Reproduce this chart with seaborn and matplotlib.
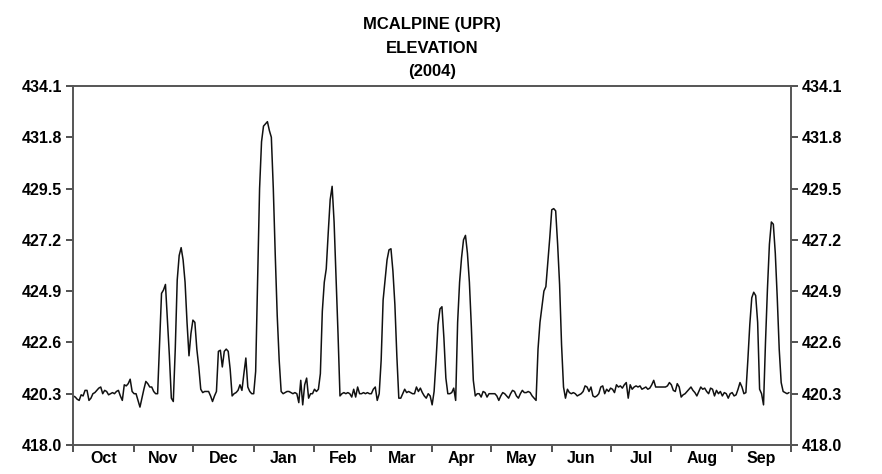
import numpy as np
import pandas as pd
import matplotlib
matplotlib.use("Agg")
import matplotlib.pyplot as plt
import seaborn as sns

# daily elevation readings, water year Oct 2003 - Sep 2004
oct_vals = [420.2, 420.15, 420.05, 420.0, 420.25, 420.2, 420.45, 420.45, 420.0, 420.1,
            420.3, 420.35, 420.45, 420.55, 420.6, 420.3, 420.45, 420.4, 420.25, 420.3,
            420.35, 420.3, 420.4, 420.45, 420.2, 420.0, 420.7, 420.65, 420.75, 420.95, 420.4]
nov_vals = [420.3, 420.3, 420.0, 419.7, 420.1, 420.5, 420.85, 420.75, 420.6, 420.6,
            420.4, 420.3, 420.3, 422.6, 424.8, 424.95, 425.2, 423.6, 422.0, 420.1,
            419.95, 422.3, 425.4, 426.5, 426.85, 426.3, 425.3, 423.5, 422.0, 423.0]
dec_vals = [423.6, 423.5, 422.3, 421.5, 420.5, 420.35, 420.4, 420.4, 420.4, 420.2,
            419.95, 420.2, 420.4, 422.2, 422.25, 421.5, 422.2, 422.3, 422.2, 421.4,
            420.2, 420.3, 420.35, 420.45, 420.7, 420.45, 421.2, 421.9, 420.6, 420.4, 420.3]
jan_vals = [420.3, 421.3, 425.5, 429.5, 431.6, 432.3, 432.4, 432.5, 432.1, 431.8,
            429.5, 426.5, 423.8, 421.8, 420.4, 420.3, 420.35, 420.4, 420.4, 420.35,
            420.3, 420.35, 420.3, 419.9, 420.9, 419.8, 420.7, 421.0, 420.1, 420.3, 420.3]
feb_vals = [420.5, 420.4, 420.5, 421.2, 424.0, 425.3, 425.9, 427.5, 429.0, 429.6,
            428.0, 425.5, 423.0, 420.2, 420.3, 420.35, 420.3, 420.35, 420.3, 420.15,
            420.5, 420.15, 420.6, 420.3, 420.3, 420.35, 420.3, 420.35, 420.3]
mar_vals = [420.3, 420.5, 420.6, 420.0, 420.3, 421.8, 424.5, 425.4, 426.3, 426.75,
            426.8, 425.8, 424.3, 422.0, 420.1, 420.1, 420.3, 420.5, 420.35, 420.4,
            420.35, 420.3, 420.3, 420.6, 420.4, 420.55, 420.35, 420.2, 420.1, 420.3, 420.2]
apr_vals = [419.8, 420.4, 421.8, 423.4, 424.1, 424.2, 422.8, 421.0, 420.3, 420.3,
            420.35, 420.55, 420.0, 423.5, 425.3, 426.4, 427.2, 427.4, 426.6, 425.3,
            423.3, 420.9, 420.2, 420.3, 420.3, 420.15, 420.4, 420.35, 420.15, 420.3]
may_vals = [420.3, 420.3, 420.3, 420.2, 420.0, 420.2, 420.35, 420.3, 420.2, 420.1,
            420.3, 420.45, 420.4, 420.2, 420.1, 420.3, 420.45, 420.35, 420.35, 420.4,
            420.35, 420.2, 420.1, 420.0, 422.3, 423.5, 424.2, 424.9, 425.1, 426.2, 427.3]
jun_vals = [428.55, 428.6, 428.5, 427.0, 425.2, 422.5, 420.6, 420.1, 420.5, 420.35,
            420.3, 420.35, 420.3, 420.2, 420.25, 420.3, 420.4, 420.65, 420.6, 420.4,
            420.6, 420.2, 420.15, 420.2, 420.3, 420.6, 420.65, 420.3, 420.5, 420.4]
jul_vals = [420.55, 420.5, 420.35, 420.7, 420.6, 420.65, 420.55, 420.7, 420.8, 420.1,
            420.7, 420.5, 420.6, 420.65, 420.6, 420.65, 420.5, 420.55, 420.6, 420.5,
            420.55, 420.7, 420.9, 420.6, 420.6, 420.6, 420.6, 420.6, 420.6, 420.65, 420.8]
aug_vals = [420.7, 420.45, 420.4, 420.75, 420.6, 420.15, 420.25, 420.3, 420.4, 420.5,
            420.6, 420.45, 420.35, 420.2, 420.4, 420.6, 420.5, 420.55, 420.4, 420.3,
            420.55, 420.5, 420.2, 420.45, 420.3, 420.4, 420.2, 420.35, 420.3, 420.1, 420.3]
sep_vals = [420.35, 420.2, 420.25, 420.5, 420.8, 420.6, 420.3, 420.35, 421.8, 423.4,
            424.6, 424.85, 424.7, 423.5, 420.5, 420.3, 419.8, 422.6, 425.0, 427.0,
            428.0, 427.9, 426.6, 424.6, 422.3, 420.8, 420.4, 420.35, 420.3, 420.35]

month_labels = ["Oct", "Nov", "Dec", "Jan", "Feb", "Mar", "Apr", "May", "Jun", "Jul", "Aug", "Sep"]
y_ticks = [418.0, 420.3, 422.6, 424.9, 427.2, 429.5, 431.8, 434.1]

elev = np.concatenate([oct_vals, nov_vals, dec_vals, jan_vals, feb_vals, mar_vals,
                       apr_vals, may_vals, jun_vals, jul_vals, aug_vals, sep_vals])
dates = pd.date_range("2003-10-01", periods=len(elev), freq="D")
df = pd.DataFrame({"date": dates, "elev": elev})

sns.set_style("ticks")
plt.rcParams["font.family"] = ["Liberation Sans", "DejaVu Sans"]

fig = plt.figure(figsize=(8.82, 4.74), dpi=100)
ax = fig.add_axes([0.0831, 0.0612, 0.8137, 0.7574])

sns.lineplot(data=df, x="date", y="elev", ax=ax, color="#111111", linewidth=1.1)

ax.set_xlim(pd.Timestamp("2003-10-01"), pd.Timestamp("2004-10-01"))
ax.set_ylim(418.0, 434.1)
ax.set_yticks(y_ticks)
ax.set_yticklabels([f"{v:.1f}" for v in y_ticks], fontweight="bold", fontsize=11.5)

month_starts = pd.date_range("2003-10-01", "2004-10-01", freq="MS")
mids = [s + (e - s) / 2 for s, e in zip(month_starts[:-1], month_starts[1:])]
ax.set_xticks(month_starts)
ax.set_xticklabels([])
ax.set_xticks(mids, minor=True)
ax.set_xticklabels(month_labels, minor=True, fontweight="bold", fontsize=11.5)
ax.tick_params(axis="x", which="minor", length=0, pad=4, labelcolor="black")
ax.tick_params(axis="x", which="major", length=5, width=1.2, direction="out", colors="#333333")
ax.tick_params(axis="y", length=5, width=1.2, direction="out", right=True, labelright=True,
               colors="#333333", labelcolor="black", pad=3)

for sp in ax.spines.values():
    sp.set_visible(True)
    sp.set_linewidth(1.4)
    sp.set_color("#555555")

ax.set_xlabel("")
ax.set_ylabel("")
ax.set_title("MCALPINE (UPR)\nELEVATION\n(2004)", fontweight="bold", fontsize=12,
             linespacing=1.7, pad=7, color="black")

fig.savefig("out.png", dpi=100)
